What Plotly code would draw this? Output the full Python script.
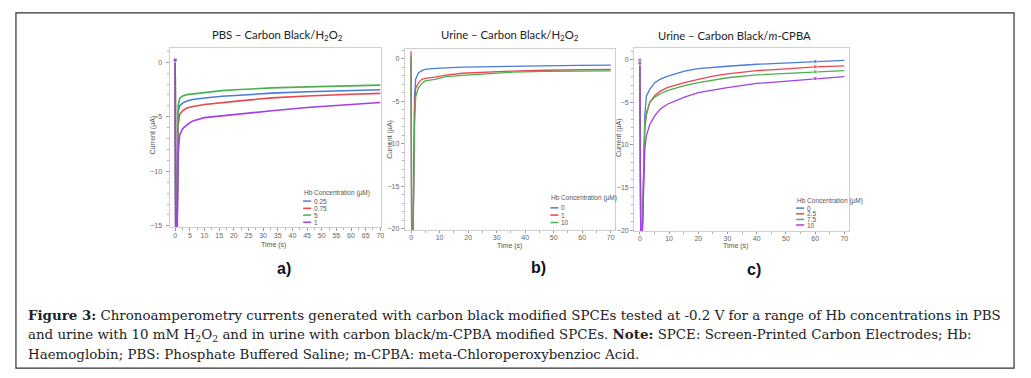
import plotly.graph_objects as go

W, H = 1031, 378

# ---------------- data ----------------
# Panel a: PBS – Carbon Black/H2O2
time_a = [0.0, 0.2, 0.6, 1.0, 1.5, 2.5, 4.0, 6.0, 10.0, 16.0, 22.0, 33.0, 45.0, 60.0, 70.0]
conc_a = ["0.25", "0.75", "5", "1"]
pbs_025 = [0.2, -17, -17, -4.6, -4.0, -3.75, -3.55, -3.42, -3.28, -3.12, -3.03, -2.83, -2.70, -2.57, -2.52]
pbs_075 = [0.2, -17, -17, -5.8, -4.8, -4.45, -4.20, -4.05, -3.87, -3.68, -3.54, -3.27, -3.09, -2.94, -2.85]
pbs_5 = [0.2, -17, -17, -4.0, -3.35, -3.10, -2.97, -2.90, -2.75, -2.60, -2.50, -2.35, -2.26, -2.18, -2.10]
pbs_1 = [0.2, -17, -17, -8.5, -6.7, -6.10, -5.75, -5.38, -5.08, -4.90, -4.75, -4.45, -4.15, -3.85, -3.69]

# Panel b: Urine – Carbon Black/H2O2
time_b = [0.0, 0.2, 0.7, 1.2, 1.6, 2.6, 3.8, 4.9, 8.4, 12.2, 18.0, 23.8, 35.4, 47.0, 58.6, 70.0]
conc_b = ["0", "1", "10"]
urine_0 = [0.0, -21, -21, -4.5, -2.4, -1.64, -1.40, -1.25, -1.13, -1.05, -0.98, -0.94, -0.86, -0.82, -0.78, -0.75]
urine_1 = [0.9, -21, -21, -6.0, -3.5, -2.80, -2.42, -2.30, -2.15, -1.91, -1.70, -1.60, -1.45, -1.35, -1.28, -1.25]
urine_10 = [0.3, -21, -21, -8.0, -4.5, -3.40, -2.90, -2.60, -2.42, -2.10, -1.95, -1.83, -1.58, -1.47, -1.42, -1.42]

# Panel c: Urine – Carbon Black/m-CPBA
time_c = [0.0, 0.3, 0.8, 1.7, 2.25, 3.4, 5.1, 7.0, 9.6, 12.0, 15.3, 20.0, 25.0, 30.0, 40.0, 50.0, 60.0, 70.0]
conc_c = ["0", "2.5", "7.5", "10"]
mcpba_0 = [0.0, -21, -21, -6.5, -4.27, -3.49, -2.71, -2.30, -1.94, -1.70, -1.36, -1.05, -0.90, -0.78, -0.55, -0.40, -0.22, -0.10]
mcpba_25 = [-0.05, -21, -21, -8.0, -6.5, -5.0, -4.2, -3.70, -3.25, -3.00, -2.70, -2.33, -1.95, -1.67, -1.30, -1.10, -0.85, -0.75]
mcpba_75 = [-0.1, -21, -21, -7.5, -6.2, -5.0, -4.4, -4.00, -3.60, -3.35, -3.05, -2.71, -2.40, -2.13, -1.80, -1.62, -1.43, -1.30]
mcpba_10 = [-0.4, -21, -21, -10.5, -8.9, -7.6, -6.6, -5.80, -5.20, -4.85, -4.40, -3.87, -3.55, -3.29, -2.80, -2.52, -2.21, -2.00]
marker_times_c = [0.0, 60.0]

titles = ["PBS – Carbon Black/H<sub>2</sub>O<sub>2</sub>",
          "Urine – Carbon Black/H<sub>2</sub>O<sub>2</sub>",
          "Urine – Carbon Black/<i>m</i>-CPBA"]
letters = ["a)", "b)", "c)"]
legend_title = "Hb Concentration (µM)"

BLUE, RED, GREEN, PURPLE = "#4a7bdc", "#e8474f", "#4cb04e", "#a23fe6"
colors_a = [BLUE, RED, GREEN, PURPLE]
colors_b = [BLUE, RED, GREEN]
colors_c = [BLUE, RED, GREEN, PURPLE]

caption = [
    "<b>Figure 3:</b> Chronoamperometry currents generated with carbon black modified SPCEs tested at -0.2 V for a range of Hb concentrations in PBS",
    "and urine with 10 mM H<sub>2</sub>O<sub>2</sub> and in urine with carbon black/m-CPBA modified SPCEs. <b>Note:</b> SPCE: Screen-Printed Carbon Electrodes; Hb:",
    "Haemoglobin; PBS: Phosphate Buffered Saline; m-CPBA: meta-Chloroperoxybenzioc Acid.",
]

# ---------------- layout geometry (pixels) ----------------
def px(x):
    return x / W

def py(y):
    return 1 - y / H

panels = [
    dict(time=time_a, series=[pbs_025, pbs_075, pbs_5, pbs_1], names=conc_a, colors=colors_a,
         box=(170, 382, 48, 229), xr=[-1.94, 70.2], yr=[-15.12, 1.34], xdt=5, ydt=5,
         title=(278, 36), letter=(285, 271), ytitle=(153, 136), xtitle=(274, 247),
         leg=(303, 194.5, [202.7, 210, 216.8, 224]), lw=1.6, standoff=2, xlen=3,
         markers=[0.0]),
    dict(time=time_b, series=[urine_0, urine_1, urine_10], names=conc_b, colors=colors_b,
         box=(406, 617, 49, 232), xr=[-2.2, 71.57], yr=[-20.18, 1.2], xdt=10, ydt=5,
         title=(511, 36), letter=(540, 270), ytitle=(391, 140), xtitle=(511, 247.5),
         leg=(551, 200, [209.5, 216.8, 224.3]), lw=1.3, standoff=0, xlen=2,
         markers=[]),
    dict(time=time_c, series=[mcpba_0, mcpba_25, mcpba_75, mcpba_10], names=conc_c, colors=colors_c,
         box=(636, 851, 48, 233), xr=[-1.95, 71.43], yr=[-20.1, 1.4], xdt=10, ydt=5,
         title=(737, 36), letter=(756, 272), ytitle=(621, 139), xtitle=(738, 247.5),
         leg=(797.5, 202.8, [209.8, 215.5, 221.2, 226.8]), lw=1.3, standoff=0, xlen=2,
         markers=marker_times_c),
]

fig = go.Figure()
annotations = []
shapes = []
TICKFONT = dict(family="Liberation Sans, Arial, sans-serif", size=7, color="#666666")

for i, p in enumerate(panels):
    sfx = "" if i == 0 else str(i + 1)
    xa, ya = "x" + sfx, "y" + sfx
    for vals, name, col in zip(p["series"], p["names"], p["colors"]):
        sizes = [4 if t in p["markers"] else 0 for t in p["time"]]
        fig.add_trace(go.Scatter(
            x=p["time"], y=vals, name=name, xaxis=xa, yaxis=ya,
            mode="lines+markers" if p["markers"] else "lines",
            line=dict(color=col, width=p["lw"]),
            marker=dict(size=sizes, symbol="square", color=col),
            showlegend=False, cliponaxis=True, hoverinfo="skip",
        ))
    x0, x1, y0, y1 = p["box"]
    axcommon = dict(showgrid=False, zeroline=False, showline=True, mirror=True,
                    linecolor="#cfcfcf", linewidth=1, ticks="outside",
                    tickcolor="#9a9a9a", tickfont=TICKFONT, fixedrange=True)
    fig.layout["xaxis" + sfx] = dict(
        domain=[px(x0), px(x1)], range=p["xr"], anchor=ya, dtick=p["xdt"], tick0=0,
        ticklen=p["xlen"], ticklabelstandoff=-2,
        minor=dict(dtick=p["xdt"] / 2, ticklen=2, tickcolor="#b0b0b0", ticks="outside"),
        **axcommon)
    fig.layout["yaxis" + sfx] = dict(
        domain=[py(y1), py(y0)], range=p["yr"], anchor=xa, dtick=p["ydt"], tick0=0,
        ticklen=3, ticklabelstandoff=p["standoff"],
        minor=dict(dtick=1, ticklen=2, tickcolor="#b0b0b0", ticks="outside"),
        **axcommon)

    # panel title
    annotations.append(dict(x=px(p["title"][0]), y=py(p["title"][1]), xref="paper", yref="paper",
                            text=titles[i], showarrow=False, xanchor="center", yanchor="middle",
                            font=dict(family="Lato, sans-serif", size=11.3, color="#222222")))
    # panel letter
    annotations.append(dict(x=px(p["letter"][0]), y=py(p["letter"][1]), xref="paper", yref="paper",
                            text="<b>" + letters[i] + "</b>", showarrow=False,
                            xanchor="center", yanchor="middle",
                            font=dict(family="Liberation Sans, Arial, sans-serif", size=16, color="#111111")))
    # axis titles
    annotations.append(dict(x=px(p["ytitle"][0]), y=py(p["ytitle"][1]), xref="paper", yref="paper",
                            text="Current (µA)", showarrow=False, textangle=-90,
                            xanchor="center", yanchor="middle",
                            font=dict(family="Liberation Sans, Arial, sans-serif", size=7, color="#555555")))
    annotations.append(dict(x=px(p["xtitle"][0]), y=py(p["xtitle"][1]), xref="paper", yref="paper",
                            text="Time (s)", showarrow=False, xanchor="center", yanchor="middle",
                            font=dict(family="Liberation Sans, Arial, sans-serif", size=7, color="#555555")))
    # legend (drawn manually, compact like the source)
    lx, lty, lys = p["leg"]
    annotations.append(dict(x=px(lx), y=py(lty), xref="paper", yref="paper", text=legend_title,
                            showarrow=False, xanchor="left", yanchor="middle",
                            font=dict(family="Liberation Sans, Arial, sans-serif", size=6.5, color="#555555")))
    for name, col, ly in zip(p["names"], p["colors"], lys):
        shapes.append(dict(type="line", xref="paper", yref="paper",
                           x0=px(lx + 1), x1=px(lx + 9), y0=py(ly), y1=py(ly),
                           line=dict(color=col, width=1.5)))
        annotations.append(dict(x=px(lx + 9.5), y=py(ly), xref="paper", yref="paper", text=name,
                                showarrow=False, xanchor="left", yanchor="middle",
                                font=dict(family="Liberation Sans, Arial, sans-serif", size=6.5, color="#555555")))

# caption
for txt, y in zip(caption, [318, 338, 357]):
    annotations.append(dict(x=px(26), y=py(y), xref="paper", yref="paper", text=txt,
                            showarrow=False, xanchor="left", yanchor="middle",
                            font=dict(family="DejaVu Serif, serif", size=13.4, color="#222222")))

# outer frame
shapes.append(dict(type="rect", xref="paper", yref="paper", x0=px(16), x1=px(1017),
                   y0=py(371), y1=py(13), line=dict(color="#333333", width=1.2)))

fig.update_layout(width=W, height=H, margin=dict(l=0, r=0, t=0, b=0),
                  paper_bgcolor="white", plot_bgcolor="white", hovermode=False,
                  annotations=annotations, shapes=shapes, showlegend=False)

fig.write_html("out.html", config={"displayModeBar": False, "staticPlot": True},
               post_script="document.body.style.margin='0px';document.body.style.padding='0px';"
                           "document.body.style.overflow='hidden';")
